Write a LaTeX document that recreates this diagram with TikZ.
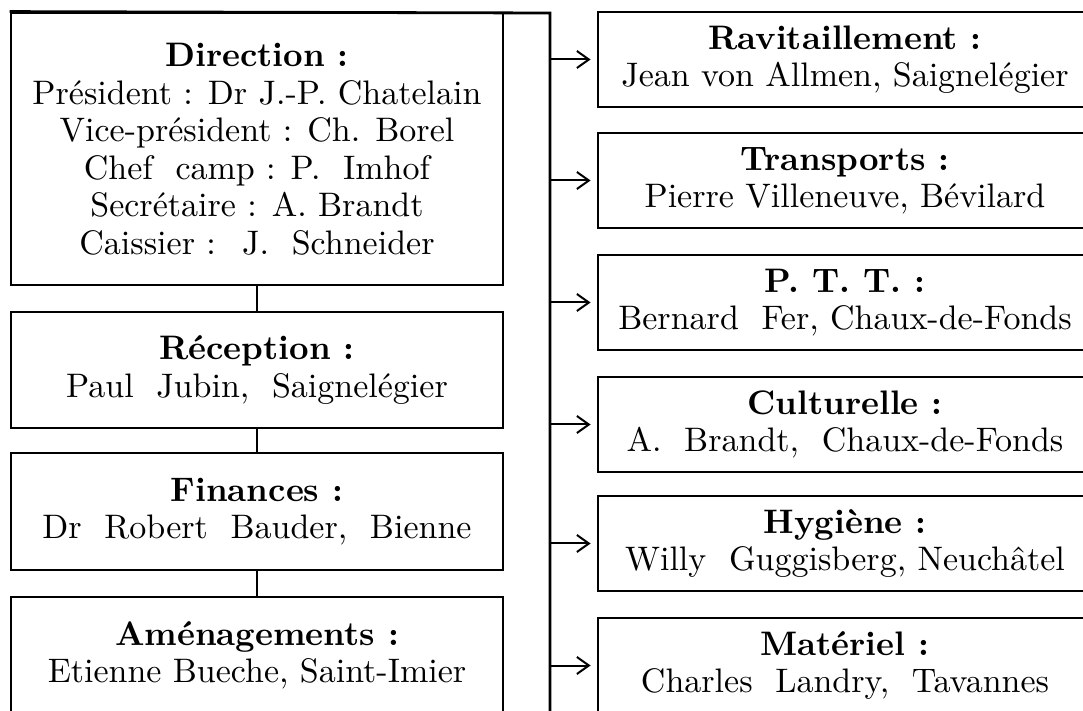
\documentclass[tikz,border=0pt]{standalone}
\usepackage{fontspec}
\setmainfont{lmroman10-regular}[Extension=.otf, BoldFont=lmroman10-bold]
\usetikzlibrary{arrows.meta}

\tikzset{
  leftbox/.style={draw, line width=1.4pt, minimum width=246pt, align=center,
    inner sep=0pt, font=\fontsize{17pt}{18.75pt}\selectfont},
  rightbox/.style={draw, line width=1.4pt, minimum width=247pt, minimum height=47.5pt,
    align=center, inner sep=0pt, font=\fontsize{17pt}{18.5pt}\selectfont},
  link/.style={line width=1.4pt},
  feed/.style={-{Straight Barb[length=6pt,width=8.5pt]}, line width=1pt, shorten >=3pt}
}

\begin{document}
\begin{tikzpicture}[x=0.5pt,y=-0.5pt]
    \useasboundingbox[fill=white] (0,0) rectangle (1083,711);

    % Left column
    \node[leftbox, minimum height=136pt] (dir) at (257,149)
      {\textbf{Direction :}\\
       Président : Dr J.-P. Chatelain\\
       Vice-président : Ch. Borel\\
       Chef \ camp : P. \ Imhof\\
       Secrétaire : A. Brandt\\
       Caissier : \ J. \ Schneider};
    \node[leftbox, minimum height=58pt] (rec) at (257,370)
      {\textbf{Réception :}\\ Paul \ Jubin, \ Saignelégier};
    \node[leftbox, minimum height=58.5pt] (fin) at (257,511.5)
      {\textbf{Finances :}\\ Dr \ Robert \ Bauder, \ Bienne};
    \node[leftbox, minimum height=58.5pt] (amen) at (257,655.5)
      {\textbf{Aménagements :}\\ Etienne Bueche, Saint-Imier};

    % Links between the left boxes
    \draw[link] (dir) -- (rec);
    \draw[link] (rec) -- (fin);
    \draw[link] (fin) -- (amen);

    % Right column
    \node[rightbox] (rav) at (845,59.5)
      {\textbf{Ravitaillement :}\\ Jean von Allmen, Saignelégier};
    \node[rightbox] (tra) at (845,180.5)
      {\textbf{Transports :}\\ Pierre Villeneuve, Bévilard};
    \node[rightbox] (ptt) at (845,302.5)
      {\textbf{P. T. T. :}\\ Bernard \ Fer, Chaux-de-Fonds};
    \node[rightbox] (cul) at (845,424.5)
      {\textbf{Culturelle :}\\ A. \ Brandt, \ Chaux-de-Fonds};
    \node[rightbox] (hyg) at (845,543.5)
      {\textbf{Hygiène :}\\ Willy \ Guggisberg, Neuchâtel};
    \node[rightbox] (mat) at (845,665.5)
      {\textbf{Matériel :}\\ Charles \ Landry, \ Tavannes};

    % Trunk from the top of the Direction box
    \coordinate (trunktop) at (550,13);
    \coordinate (trunkbot) at (550,720);
    \draw[link] (dir.north west) -- (trunktop) -- (trunkbot);

    % Arrows to the right boxes
    \draw[feed] (trunktop |- rav.west) -- (rav.west);
    \draw[feed] (trunktop |- tra.west) -- (tra.west);
    \draw[feed] (trunktop |- ptt.west) -- (ptt.west);
    \draw[feed] (trunktop |- cul.west) -- (cul.west);
    \draw[feed] (trunktop |- hyg.west) -- (hyg.west);
    \draw[feed] (trunktop |- mat.west) -- (mat.west);
\end{tikzpicture}
\end{document}
